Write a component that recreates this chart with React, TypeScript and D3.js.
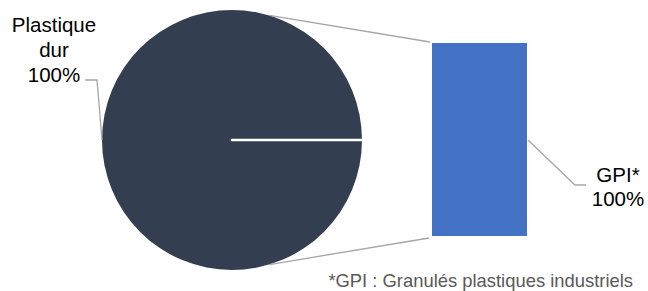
import * as d3 from "d3";
import { useEffect, useRef } from "react";

// pie part
const pieCategories = ["Plastique dur"];
const pieValues = [100];
// bar part (breakdown)
const barCategories = ["GPI*"];
const barValues = [100];
const footnote = "*GPI : Granulés plastiques industriels";

const WIDTH = 648;
const HEIGHT = 291;

export default function App() {
  const svgRef = useRef<SVGSVGElement>(null);

  useEffect(() => {
    const svg = d3.select(svgRef.current);
    svg.selectAll("*").remove();
    svg.attr("viewBox", `0 0 ${WIDTH} ${HEIGHT}`);

    const font = "Liberation Sans, Arial, sans-serif";
    const cx = 232;
    const cy = 140;
    const radius = 130;

    // Pie
    const pieGen = d3
      .pie<number>()
      .sort(null)
      .startAngle(Math.PI / 2)
      .endAngle(Math.PI / 2 + 2 * Math.PI);
    const arcs = pieGen(pieValues);
    const arcGen = d3.arc<d3.PieArcDatum<number>>().innerRadius(0).outerRadius(radius);

    const pieG = svg.append("g").attr("transform", `translate(${cx},${cy})`);
    pieG
      .selectAll("path")
      .data(arcs)
      .join("path")
      .attr("d", arcGen)
      .attr("fill", "#333f50");

    // slice border (white)
    arcs.forEach((a) => {
      pieG
        .append("line")
        .attr("x1", 0)
        .attr("y1", 0)
        .attr("x2", Math.sin(a.startAngle) * radius)
        .attr("y2", -Math.cos(a.startAngle) * radius)
        .attr("stroke", "#ffffff")
        .attr("stroke-width", 2.5)
        .attr("stroke-linecap", "round");
    });

    // Bar
    const x = d3.scaleBand().domain(barCategories).range([432, 527]).padding(0);
    const y = d3.scaleLinear().domain([0, d3.sum(barValues)]).range([236, 43]);
    let acc = 0;
    const stacks = barValues.map((v, i) => {
      const s = { cat: barCategories[i], y0: acc, y1: acc + v };
      acc += v;
      return s;
    });
    svg
      .append("g")
      .selectAll("rect")
      .data(stacks)
      .join("rect")
      .attr("x", x(barCategories[0])!)
      .attr("width", x.bandwidth())
      .attr("y", (d) => y(d.y1))
      .attr("height", (d) => y(d.y0) - y(d.y1))
      .attr("fill", "#4472c4");

    // Connector lines from pie to bar
    const connAngle = (16.7 * Math.PI) / 180;
    const topPt: [number, number] = [cx + Math.sin(connAngle) * radius, cy - Math.cos(connAngle) * radius];
    const botPt: [number, number] = [cx + Math.sin(connAngle) * radius, cy + Math.cos(connAngle) * radius];
    const barLeft = x(barCategories[0])!;
    [
      [topPt, [barLeft - 2, y(d3.sum(barValues)) - 1]],
      [botPt, [barLeft - 3, y(0) + 2]],
    ].forEach(([a, b]) => {
      svg
        .append("line")
        .attr("x1", a[0])
        .attr("y1", a[1])
        .attr("x2", b[0])
        .attr("y2", b[1])
        .attr("stroke", "#a6a6a6")
        .attr("stroke-width", 1.3);
    });

    // Labels
    const pieLabel = svg
      .append("text")
      .attr("font-family", font)
      .attr("font-size", 20.5)
      .attr("fill", "#000000")
      .attr("text-anchor", "middle");
    const pieLines = [...pieCategories[0].split(" "), `${pieValues[0]}%`];
    pieLines.forEach((t, i) => {
      pieLabel
        .append("tspan")
        .attr("x", 54)
        .attr("y", 32 + i * 25)
        .text(t);
    });
    svg
      .append("path")
      .attr("d", d3.line()([[85, 80], [97, 80], [102, 140]]))
      .attr("fill", "none")
      .attr("stroke", "#a6a6a6")
      .attr("stroke-width", 1.3);

    const barLabel = svg
      .append("text")
      .attr("font-family", font)
      .attr("font-size", 20.5)
      .attr("fill", "#000000")
      .attr("text-anchor", "middle");
    [barCategories[0], `${barValues[0]}%`].forEach((t, i) => {
      barLabel
        .append("tspan")
        .attr("x", 618)
        .attr("y", 182 + i * 24)
        .text(t);
    });
    svg
      .append("path")
      .attr("d", d3.line()([[528, 140], [575, 185], [586, 185]]))
      .attr("fill", "none")
      .attr("stroke", "#a6a6a6")
      .attr("stroke-width", 1.3);

    svg
      .append("text")
      .attr("x", 633)
      .attr("y", 287)
      .attr("text-anchor", "end")
      .attr("font-family", font)
      .attr("font-size", 18.4)
      .attr("fill", "#595959")
      .text(footnote);
  }, []);

  return (
    <div style={{ position: "fixed", left: 0, top: 0, width: WIDTH, height: HEIGHT, background: "#fff" }}>
      <svg ref={svgRef} width={WIDTH} height={HEIGHT} style={{ display: "block" }} />
    </div>
  );
}
